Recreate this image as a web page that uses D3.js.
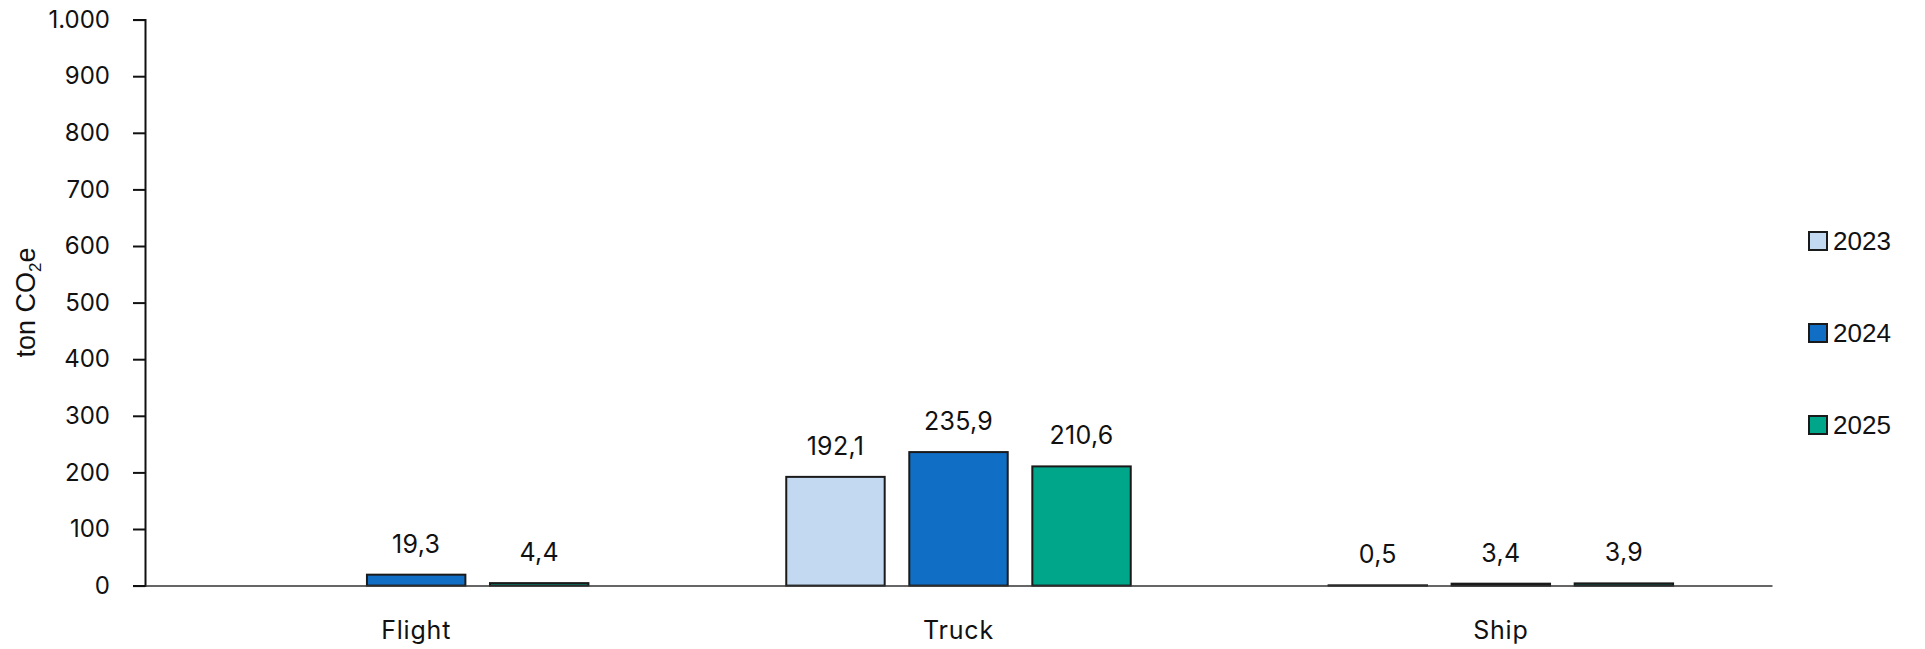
<!DOCTYPE html>
<html>
<head>
<meta charset="utf-8">
<script src="https://cdn.jsdelivr.net/npm/d3@7"></script>
<style>
  html, body { margin: 0; padding: 0; background: #ffffff; }
  svg { display: block; }
</style>
</head>
<body>
<svg id="chart" width="1925" height="649"></svg>
<script>
// ---- data ----
const categories = ["Flight", "Truck", "Ship"];
const years = ["2023", "2024", "2025"];
const values2023 = [0, 192.1, 0.5];
const values2024 = [19.3, 235.9, 3.4];
const values2025 = [4.4, 210.6, 3.9];
const yTicks = [0, 100, 200, 300, 400, 500, 600, 700, 800, 900, 1000];
const seriesColors = ["#c3d9f1", "#106ec5", "#00a68a"];
const showLabel2023 = [false, true, true];

const series = [values2023, values2024, values2025];

const locale = d3.formatLocale({ decimal: ",", thousands: ".", grouping: [3], currency: ["", ""] });
const fmtTick = locale.format(",d");
const fmtVal = locale.format(",.1f");

const svg = d3.select("#chart");
const plotLeft = 145, plotRight = 1772, plotTop = 19.6, plotBottom = 585.6;

const x0 = d3.scaleBand().domain(categories).range([plotLeft, plotRight]).padding(0);
const x1 = d3.scaleBand().domain(years).range([0, x0.bandwidth()]).paddingInner(0.2).paddingOuter(0.804);
const y = d3.scaleLinear().domain([0, 1000]).range([plotBottom, plotTop]);

const numFont = "Inter, 'Open Sans', sans-serif";
const arialFont = "'Liberation Sans', Arial, sans-serif";

// bars
categories.forEach((cat, ci) => {
  years.forEach((yr, si) => {
    const v = series[si][ci];
    const isEmpty = (si === 0 && !showLabel2023[ci]);
    if (isEmpty) return;
    const bx = x0(cat) + x1(yr);
    svg.append("rect")
      .attr("x", bx)
      .attr("y", y(v))
      .attr("width", x1.bandwidth())
      .attr("height", Math.max(0, y(0) - y(v)))
      .attr("fill", seriesColors[si])
      .attr("stroke", "#1a1a1a")
      .attr("stroke-width", 2);
    svg.append("text")
      .attr("x", bx + x1.bandwidth() / 2)
      .attr("y", y(v) - 22)
      .attr("text-anchor", "middle")
      .attr("font-family", numFont)
      .attr("font-size", 25)
      .attr("letter-spacing", 0.3)
      .attr("fill", "#111")
      .text(fmtVal(v));
  });
});

// y axis
const yAxis = d3.axisLeft(y).tickValues(yTicks).tickFormat(fmtTick).tickSize(12).tickPadding(23);
const gy = svg.append("g").attr("transform", `translate(${plotLeft},0)`).call(yAxis);
gy.select(".domain").attr("stroke", "#111").attr("stroke-width", 2);
gy.selectAll(".tick line").attr("stroke", "#111").attr("stroke-width", 2);
gy.selectAll(".tick text")
  .attr("font-family", numFont)
  .attr("font-size", 24)
  .attr("fill", "#111");

// x axis
const xAxis = d3.axisBottom(x0).tickSize(0).tickPadding(36);
const gx = svg.append("g").attr("transform", `translate(0,${plotBottom})`).call(xAxis);
gx.select(".domain").attr("stroke", "#333").attr("stroke-width", 1.5);
gx.selectAll(".tick text")
  .attr("font-family", numFont)
  .attr("font-size", 25)
  .attr("letter-spacing", 0.8)
  .attr("fill", "#111");

// y axis title
const title = svg.append("text")
  .attr("transform", `translate(35,${(plotTop + plotBottom) / 2}) rotate(-90)`)
  .attr("text-anchor", "middle")
  .attr("font-family", arialFont)
  .attr("font-size", 27)
  .attr("fill", "#111");
title.append("tspan").text("ton CO");
title.append("tspan").attr("font-size", 17).attr("dy", 6).text("2");
title.append("tspan").attr("dy", -6).text("e");

// legend
const legend = svg.append("g");
years.forEach((yr, i) => {
  const ly = 241 + i * 92;
  legend.append("rect")
    .attr("x", 1809).attr("y", ly - 9)
    .attr("width", 18).attr("height", 18)
    .attr("fill", seriesColors[i])
    .attr("stroke", "#1a1a1a").attr("stroke-width", 2);
  legend.append("text")
    .attr("x", 1833).attr("y", ly + 9)
    .attr("font-family", arialFont)
    .attr("font-size", 26)
    .attr("fill", "#111")
    .text(yr);
});
</script>
</body>
</html>
